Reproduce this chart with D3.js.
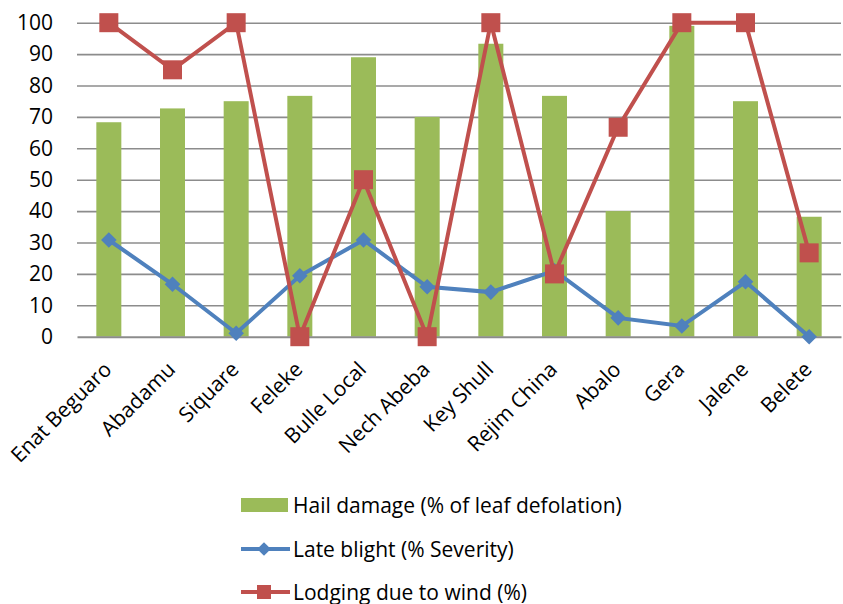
<!DOCTYPE html>
<meta charset="utf-8">
<style>
body { margin: 0; background: #fff; }
svg text { font-family: "Open Sans", sans-serif; fill: #000; }
.grid line { stroke: #8c8c8c; stroke-width: 1.6; }
.grid path { display: none; }
.bar { fill: #9bbb59; }
.blight { fill: none; stroke: #4f81bd; stroke-width: 4; }
.lodging { fill: none; stroke: #c0504d; stroke-width: 4; }
.diamond { fill: #4f81bd; }
.square { fill: #c0504d; }
</style>
<body></body>
<script src="https://d3js.org/d3.v7.min.js"></script>
<script>

// varieties along the x axis
var varieties = ["Enat Beguaro", "Abadamu", "Siquare", "Feleke", "Bulle Local", "Nech Abeba",
                 "Key Shull", "Rejim China", "Abalo", "Gera", "Jalene", "Belete"];

// series
var hail = [68.3, 72.7, 75, 76.7, 89, 70, 93.3, 76.7, 40, 99, 75, 38.2];
var blight = [30.8, 16.7, 1.1, 19.4, 30.8, 15.9, 14.2, 21, 6, 3.4, 17.5, 0];
var lodging = [100, 85, 100, 0, 50, 0, 100, 20, 66.7, 100, 100, 26.7];

var yTicks = [0, 10, 20, 30, 40, 50, 60, 70, 80, 90, 100];

var seriesNames = ["Hail damage (% of leaf defolation)", "Late blight (% Severity)", "Lodging due to wind (%)"];

var W = 843, H = 604;
var margin = {top: 22.7, right: 2, bottom: 267.3, left: 77};
var width = W - margin.left - margin.right,
    height = H - margin.top - margin.bottom;
var fontSize = "21px";

var svg = d3.select("body").append("svg")
    .attr("width", W)
    .attr("height", H)
  .append("g")
    .attr("transform", "translate(" + margin.left + "," + margin.top + ")");

var x = d3.scaleBand().domain(varieties).range([0, width]);
var y = d3.scaleLinear().domain([0, 100]).range([height, 0]);

// gridlines
svg.append("g")
    .attr("class", "grid")
    .call(d3.axisLeft(y).tickValues(yTicks.slice(1)).tickSize(-width).tickFormat(""));

// y tick labels
svg.append("g")
    .call(d3.axisLeft(y).tickValues(yTicks).tickSize(0).tickPadding(24))
    .call(function(g) { g.select(".domain").remove(); })
    .selectAll("text")
    .style("font-family", "'Open Sans', sans-serif")
    .style("font-size", fontSize);

// bars
var barW = 25;
svg.selectAll(".bar")
    .data(hail)
  .enter().append("rect")
    .attr("class", "bar")
    .attr("x", function(d, i) { return x(varieties[i]) + x.bandwidth() / 2 - barW / 2; })
    .attr("y", function(d) { return y(d); })
    .attr("width", barW)
    .attr("height", function(d) { return height - y(d); });

// x axis
var xAxis = svg.append("g")
    .attr("transform", "translate(0," + height + ")")
    .call(d3.axisBottom(x).tickSize(0).tickFormat(""));
xAxis.select(".domain").attr("stroke", "#8c8c8c").attr("stroke-width", 2);

svg.selectAll(".xlab")
    .data(varieties)
  .enter().append("text")
    .attr("class", "xlab")
    .attr("text-anchor", "end")
    .attr("transform", function(d) {
      return "translate(" + (x(d) + x.bandwidth() / 2 + 4) + "," + (height + 34) + ") rotate(-45)";
    })
    .style("font-size", fontSize)
    .text(function(d) { return d; });

var cx = function(d, i) { return x(varieties[i]) + x.bandwidth() / 2; };

// late blight line
svg.append("path")
    .datum(blight)
    .attr("class", "blight")
    .attr("d", d3.line().x(cx).y(function(d) { return y(d); }));

svg.selectAll(".diamond")
    .data(blight)
  .enter().append("path")
    .attr("class", "diamond")
    .attr("d", d3.symbol().type(d3.symbolDiamond2).size(155))
    .attr("transform", function(d, i) { return "translate(" + cx(d, i) + "," + y(d) + ")"; });

// lodging line
svg.append("path")
    .datum(lodging)
    .attr("class", "lodging")
    .attr("d", d3.line().x(cx).y(function(d) { return y(d); }));

svg.selectAll(".square")
    .data(lodging)
  .enter().append("rect")
    .attr("class", "square")
    .attr("x", function(d, i) { return cx(d, i) - 9.5; })
    .attr("y", function(d) { return y(d) - 9.5; })
    .attr("width", 19)
    .attr("height", 19);

// legend
var leg = d3.select("svg").append("g");
var legY = [505, 549, 592];

leg.append("rect")
    .attr("x", 241).attr("y", legY[0] - 7)
    .attr("width", 47).attr("height", 14)
    .attr("fill", "#9bbb59");

leg.append("line")
    .attr("x1", 241).attr("x2", 290).attr("y1", legY[1]).attr("y2", legY[1])
    .attr("stroke", "#4f81bd").attr("stroke-width", 4);
leg.append("path")
    .attr("d", d3.symbol().type(d3.symbolDiamond2).size(120))
    .attr("transform", "translate(264," + legY[1] + ")")
    .attr("fill", "#4f81bd");

leg.append("line")
    .attr("x1", 241).attr("x2", 290).attr("y1", legY[2]).attr("y2", legY[2])
    .attr("stroke", "#c0504d").attr("stroke-width", 4);
leg.append("rect")
    .attr("x", 257).attr("y", legY[2] - 7)
    .attr("width", 14).attr("height", 14)
    .attr("fill", "#c0504d");

leg.selectAll(".legtext")
    .data(seriesNames)
  .enter().append("text")
    .attr("x", 293)
    .attr("y", function(d, i) { return legY[i] + 7.5; })
    .style("font-size", fontSize)
    .text(function(d) { return d; });

</script>
